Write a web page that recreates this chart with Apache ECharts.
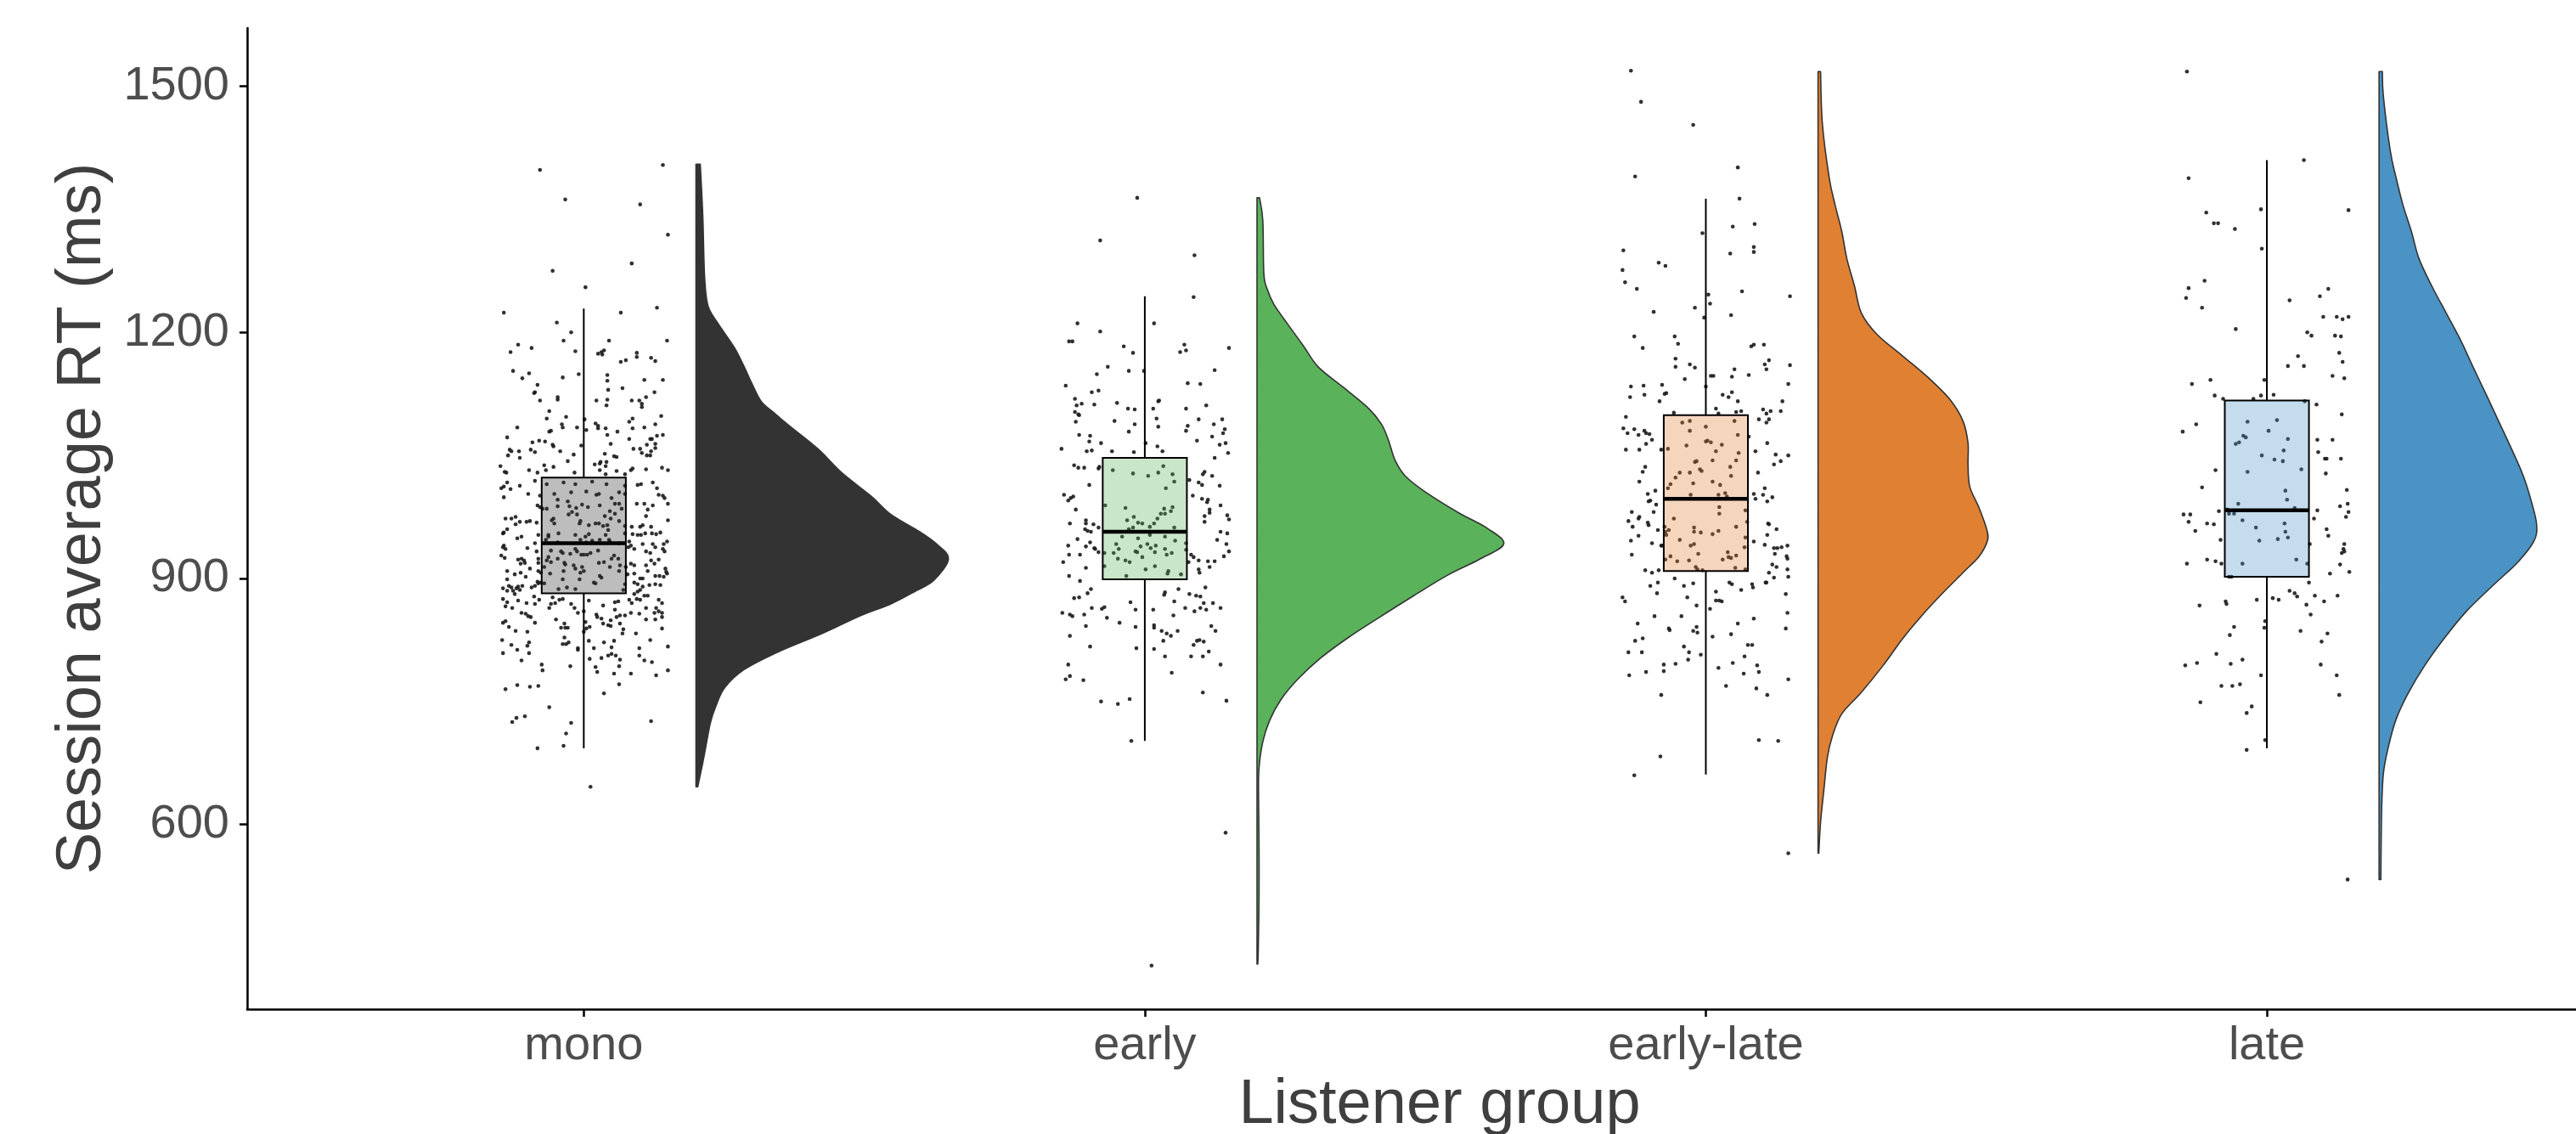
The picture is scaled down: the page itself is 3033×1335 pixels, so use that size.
<!DOCTYPE html>
<html>
<head>
<meta charset="utf-8">
<title>Session average RT by listener group</title>
<script src="https://cdn.jsdelivr.net/npm/echarts@6/dist/echarts.min.js"></script>
<style>
  html, body { margin: 0; padding: 0; background: #ffffff; }
  #chart { width: 3033px; height: 1335px; }
</style>
</head>
<body>
<div id="chart"></div>
<script>
// Listener groups shown along the x axis
const categories = ['mono', 'early', 'early-late', 'late'];
const yTickValues = [600, 900, 1200, 1500];

// Box summaries per group: [whisker low, Q1, median, Q3, whisker high] (ms)
const boxMono = [693, 882, 943, 1023, 1229];
const boxEarly = [702, 899, 957, 1047, 1244];
const boxEarlyLate = [661, 909, 997, 1099, 1363];
const boxLate = [693, 902, 983, 1117, 1410];

// Density profiles for the half violins: [RT (ms), relative density], top to bottom
const densMono = [[1405,0.017],[1342,0.027],[1269,0.034],[1233,0.047],[1211,0.087],[1182,0.151],[1160,0.188],[1138,0.221],[1116,0.258],[1102,0.309],[1087,0.366],[1058,0.483],[1029,0.577],[1000,0.695],[978,0.772],[957,0.886],[942,0.953],[924,1.0],[898,0.943],[884,0.866],[869,0.772],[855,0.654],[833,0.5],[811,0.329],[789,0.191],[767,0.114],[746,0.081],[724,0.057],[680,0.030],[646,0.007]];
const densEarly = [[1364,0.010],[1336,0.023],[1272,0.027],[1253,0.040],[1234,0.067],[1209,0.124],[1183,0.185],[1158,0.242],[1133,0.342],[1107,0.443],[1088,0.493],[1069,0.520],[1044,0.547],[1025,0.587],[1006,0.664],[980,0.799],[961,0.913],[942,0.977],[923,0.879],[904,0.755],[879,0.621],[853,0.487],[828,0.362],[803,0.252],[777,0.161],[752,0.094],[727,0.050],[701,0.023],[669,0.008],[638,0.006],[574,0.008],[511,0.008],[447,0.005],[430,0.003]];
const densEarlyLate = [[1518,0.010],[1455,0.017],[1389,0.044],[1356,0.067],[1323,0.094],[1290,0.114],[1257,0.144],[1224,0.171],[1198,0.232],[1171,0.336],[1145,0.436],[1118,0.523],[1092,0.574],[1065,0.594],[1039,0.594],[1012,0.601],[986,0.638],[960,0.668],[946,0.671],[927,0.638],[907,0.574],[880,0.487],[854,0.409],[827,0.336],[794,0.258],[761,0.171],[735,0.094],[708,0.057],[682,0.037],[642,0.023],[603,0.010],[565,0.003]];
const densLate = [[1518,0.013],[1488,0.017],[1422,0.044],[1389,0.067],[1356,0.094],[1323,0.128],[1290,0.158],[1257,0.208],[1224,0.265],[1191,0.322],[1158,0.372],[1125,0.423],[1092,0.473],[1059,0.523],[1026,0.570],[993,0.604],[966,0.624],[946,0.614],[920,0.550],[894,0.460],[860,0.346],[827,0.258],[794,0.181],[761,0.117],[728,0.067],[695,0.037],[662,0.017],[616,0.010],[533,0.007]];

// Individual session averages: [horizontal jitter (-1..1), RT (ms)]
const pointsMono = [
[-.52,1398],[.94,1404],[-.22,1362],[.67,1356],[1,1319],[-.37,1275],[.57,1284],[.02,1255],[-.95,1224],[.44,1224],[.87,1230],[-.32,1212],[-.15,1200],[-.24,1190],[.30,1190],[.99,1190],[-.78,1185],[-.87,1176],[-.62,1181],[-.10,1177],[.17,1174],[.21,1176],[.24,1178],[.22,1173],[.63,1175],[.63,1170],[.44,1164],[.50,1166],[.80,1169],[.85,1165],
[-.84,1153],[-.73,1144],[-.65,1150],[-.25,1145],[-.06,1149],[.28,1148],[.28,1141],[.29,1130],[.46,1132],[.72,1142],[.94,1142],[-.55,1136],[-.58,1127],[-.59,1126],[-.52,1117],[-.31,1121],[-.31,1118],[.15,1117],[.28,1118],[.27,1111],[.57,1117],[.66,1117],[.69,1113],[.69,1109],[.74,1121],[.84,1127],
[-.41,1104],[-.44,1095],[-.21,1097],[.01,1094],[.03,1081],[-.26,1088],[-.25,1084],[-.08,1084],[.14,1089],[.17,1086],[.17,1083],[.26,1083],[.28,1075],[.40,1079],[.54,1091],[.58,1095],[.58,1083],[.72,1084],[.85,1088],[.92,1098],[-.79,1084],[-.91,1072],[-.41,1079],[-.39,1080],
[-.61,1066],[-.53,1068],[-.46,1067],[-.37,1063],[-.36,1061],[-.28,1055],[-.63,1057],[-.58,1054],[-.88,1057],[-.86,1055],[-.77,1055],[-.90,1050],[-.76,1047],[-.03,1062],[.32,1064],[.54,1070],[.59,1058],[.67,1058],[.69,1053],[.75,1063],[.79,1070],[.81,1070],[.87,1074],[.94,1075],[.85,1064],[.85,1059],[.80,1055],[.75,1050],[.79,1050],[.25,1052],[.36,1049],[.39,1048],[-.12,1051],[-.19,1043],
[-.99,1037],[-.94,1030],[-.92,1029],[-.65,1032],[-.55,1029],[-.47,1038],[-.45,1032],[-.36,1036],[-.11,1029],[.13,1039],[.19,1040],[.20,1042],[.27,1042],[.26,1037],[.19,1032],[.39,1031],[.56,1032],[.58,1034],[.74,1033],[.93,1035],[1,1032],[.49,1027],[.26,1027],
[-.98,1010],[-.95,1012],[-.91,1017],[-.87,1009],[-.95,999],[-.76,1013],[-.66,1003],[-.58,1019],[-.44,1015],[-.35,1003],[-.31,996],[-.52,1001],[-.24,1017],[-.15,1005],[-.10,1015],[.03,1006],[.10,1018],[.15,1002],[.18,1003],[.27,1015],[.33,998],[.37,991],[.42,1005],[.49,1013],[.49,1003],[.64,1014],[.68,1015],[.82,1017],[.87,1010],[.89,1002],[.94,1001],[.96,998],[1,991],
[-.55,989],[-.52,987],[-.49,985],[-.44,985],[-.31,988],[-.19,994],[-.17,988],[-.09,986],[-.02,990],[.05,987],[.19,989],[.25,976],[.31,982],[.37,979],[.42,991],[.45,985],[.63,991],[.72,991],[.76,984],[.82,989],[.74,976],[1,971],[-.93,973],[-.86,973],[-.81,975],[-.76,969],[-.68,969],[-.64,970],[-.56,968],[-.38,971],[-.36,973],[-.35,967],[-.18,978],[-.14,981],[-.08,978],[-.04,970],[-.05,967],[.06,965],[.14,967],[.18,967],[.23,964],[.28,965],[.29,959],[.32,973],[.42,970],[.49,964],[.57,963],[.67,963],[.70,965],[.80,963],[-.81,966],[-.91,960],[-.96,955],
[-.95,956],[-.74,951],[-.79,949],[-.54,953],[-.42,951],[-.42,953],[-.30,955],[-.10,953],[.02,951],[.06,954],[.26,953],[.31,945],[.49,955],[.58,954],[.64,953],[.68,953],[.73,955],[.81,955],[.86,954],[.91,956],[-.95,940],[-.96,938],[-.93,936],[-.98,928],[-.94,925],[-.67,937],[-.58,943],[-.56,933],[-.39,934],[-.27,933],[-.25,931],[-.16,930],[-.10,936],[-.08,933],[-.03,929],[0,929],[.04,929],[.08,931],[.17,934],[.33,924],[.36,928],[.41,924],[.53,938],[.56,940],[.60,936],[.70,942],[.74,933],[.79,931],[.82,942],[.85,938],[.95,942],[.99,945],[.94,936],[.96,933],[-.45,947],[-.31,944],[-.04,947],[.03,944],[.10,946],[.19,947],[.30,947],[.42,943],[.54,945],
[-.78,923],[-.75,918],[-.71,922],[-.70,919],[-.74,924],[-.54,924],[-.54,919],[-.42,926],[-.44,922],[-.31,924],[-.23,919],[-.12,916],[-.10,912],[-.02,914],[0,909],[-.04,907],[-.05,899],[-.24,909],[-.39,920],[-.47,914],[-.51,907],[-.54,909],[-.40,906],[-.22,917],[.18,919],[.24,920],[.31,914],[.19,903],[.21,901],[.43,916],[.42,909],[.50,914],[.56,918],[.60,916],[.52,905],[.60,906],[.74,916],[.76,909],[.80,922],[.84,918],[.89,923],[.97,912],[.98,908],[.99,906],[.90,903],[.95,902],
[-.91,909],[-.82,905],[-.75,907],[-.69,902],[-.64,912],[-.55,896],[-.54,894],[-.91,899],[-.89,891],[-.86,889],[-.80,888],[-.78,890],[-.76,886],[-.73,891],[-.84,885],[-.82,881],[-.96,888],[-.91,885],[-.62,889],[-.58,891],[-.51,895],[-.47,894],
[-.25,899],[-.20,889],[-.10,887],[-.30,887],[.12,895],[.14,894],[.47,886],[.49,893],[.60,895],[.64,893],[.67,886],[.70,890],[.78,892],[.85,893],[.91,892],[.64,884],[.67,900],[.70,900],[.85,903],
[-.96,875],[-.91,871],[-.93,866],[-.85,864],[-.78,873],[-.74,858],[-.68,870],[-.69,857],[-.66,854],[-.63,853],[-.59,878],[-.58,869],[-.53,874],[-.37,877],[-.34,870],[-.39,869],[-.29,874],[-.25,875],[-.41,864],[-.15,869],[-.11,864],[-.07,858],[0,860],[.06,873],[.02,847],[.23,867],[.15,856],[.16,853],[.21,851],[.23,845],[.32,849],[.37,871],[.41,872],[.37,862],[.39,853],[.43,855],[.49,855],[.56,858],[.54,874],[.57,870],[.60,881],[.63,875],[.67,874],[.72,879],[.74,864],[.76,879],[.66,857],[.74,850],[.84,858],[.86,864],[.89,860],[.93,858],[.93,853],[.85,850],[.89,874],[.93,870],[-.96,846],[-.93,848],[-.89,841],[-.81,836],
[-.33,850],[-.27,840],[-.23,845],[-.22,840],[-.19,840],[-.58,846],[-.67,835],[0,835],[.03,839],[.07,841],[.29,843],[.32,842],[.43,845],[.47,838],[.46,833],[.62,833],[.79,825],[.93,839],[1,817],[-.97,825],[-.86,819],[-.79,813],[-.96,809],[-.67,818],[-.65,822],[-.65,809],[-.74,800],[-.23,828],[-.25,820],[-.21,820],[-.18,822],[-.07,815],[-.07,813],[.06,824],[.12,815],[.24,822],[.33,816],[.36,824],[.29,806],[.33,808],[.38,806],[.43,801],[.21,803],[.07,802],[.66,815],[.66,806],[.72,800],[.81,798],[-.50,795],[-.49,788],[-.16,793],[.14,792],[.16,786],[.36,784],[.42,793],[.56,784],[.86,782],[1,788],
[-.93,765],[-.79,770],[-.64,768],[-.54,769],[.42,771],[.24,760],[-.41,743],[-.85,725],[-.80,730],[-.70,732],[-.15,724],[.80,726],[-.21,711],[-.55,693],[-.24,696],[.08,646]
];

const pointsEarly = [
[-.09,1364],[-.53,1312],[.59,1294],[.58,1243],[-.80,1211],[-.53,1201],[.11,1211],[-.90,1189],[-.86,1189],[-.25,1183],[-.14,1175],[.42,1176],[.47,1185],[.49,1178],[1,1181],[-.44,1158],[-.57,1149],[-.19,1153],[-.01,1153],[.83,1154],[-.94,1135],[-.63,1127],[-.55,1129],[.51,1138],[.66,1137],
[-.83,1119],[-.81,1111],[-.75,1113],[-.60,1112],[-.33,1114],[-.20,1107],[-.12,1106],[.10,1107],[.16,1116],[.17,1117],[.49,1107],[.73,1111],[-.83,1103],[-.79,1100],[-.78,1099],[-.82,1091],[-.36,1092],[-.12,1088],[.14,1095],[.16,1085],[.51,1086],[.49,1080],[.64,1094],[.82,1088],[.92,1094],[.95,1082],[.93,1077],
[-.78,1075],[-.65,1074],[-.66,1067],[-.52,1065],[-.19,1079],[.01,1065],[.15,1061],[.21,1055],[.62,1068],[.80,1073],[.89,1063],[.96,1065],[.99,1053],[-.99,1058],[-.69,1055],[-.63,1056],[-.39,1055],[-.13,1054],[.83,1047],
[-.84,1038],[-.79,1035],[-.72,1035],[-.55,1034],[-.54,1036],[-.38,1032],[-.14,1028],[.04,1025],[.16,1029],[.22,1037],[.33,1027],[.35,1018],[.25,1010],[.53,1020],[.64,1017],[.69,1027],[.71,1030],[.80,1025],[.68,1014],[.89,1013],[-.66,1014],
[-.96,1002],[-.91,995],[-.88,998],[-.85,1000],[-.82,984],[-.47,989],[-.23,986],[-.21,971],[-.13,975],[-.08,968],[-.03,967],[.06,963],[.11,967],[.15,973],[.19,979],[.23,985],[.24,979],[.31,982],[.33,987],[-.19,960],[-.14,962],[.35,962],[.57,1001],[.68,997],[.75,996],[.74,993],[.77,984],[.77,980],[.71,976],[.71,969],[.90,989],[.98,977],[1,972],
[-.89,967],[-.70,971],[-.70,967],[-.61,966],[-.71,960],[-.68,958],[-.64,957],[-.55,962],[-.80,948],[-.91,940],[-.90,929],[-.77,929],[-.70,939],[-.65,944],[-.60,937],[-.59,936],[-.55,932],[-.97,920],[-.70,913],[-.90,903],[.90,957],[.98,955],[.86,947],[.97,942],[1,933],[.94,927],[.83,921],[.75,921],[.77,914],[.64,922],[.58,926],[.55,929],[.64,911],[.65,907],[.52,920],[.49,943],[.49,935],
[-.27,951],[-.08,949],[.06,953],[.24,951],[.36,946],[-.34,942],[-.31,936],[-.05,939],[.03,942],[.07,937],[.13,940],[.12,932],[.24,936],[.26,929],[.32,931],[-.37,931],[-.11,933],[-.09,932],[-.03,926],[-.48,931],[-.32,924],[-.23,922],[-.18,920],[.01,911],[.12,915],[.28,909],[.27,906],[.43,905],[-.22,903],[-.48,915],
[-.77,897],[-.64,887],[-.68,882],[-.84,876],[-.78,877],[-.98,858],[-.89,856],[-.86,854],[-.72,856],[-.63,864],[-.51,863],[-.48,865],[-.45,852],[-.70,842],[-.89,830],[-.65,817],[-.30,846],[-.17,871],[-.11,862],[-.11,841],[-.10,815],[.10,862],[.11,843],[.11,840],[.11,814],[.20,836],[.26,833],[.31,830],[.22,824],[.24,805],[.32,785],
[.23,880],[.24,883],[.35,872],[.40,887],[.34,855],[.39,836],[.48,864],[.53,881],[.59,860],[.61,879],[.66,878],[.66,864],[.70,870],[.73,862],[.72,889],[.81,870],[.90,864],[.79,842],[.84,836],[.62,824],[.65,825],[.70,823],[.58,819],[.76,811],[.55,805],[.69,805],[.90,795],
[-.91,795],[-.89,781],[-.94,777],[-.73,776],[.69,761],[.97,751],[-.52,750],[-.32,747],[-.18,753],[-.16,702],[.96,590],[.08,428]
];

const pointsEarlyLate = [
[-.89,1519],[-.77,1481],[-.15,1453],[.38,1401],[.40,1363],[-.84,1390],[-.04,1321],[.32,1329],[.58,1332],[-.98,1300],[-.99,1276],[-.96,1261],[-.82,1253],[-.56,1285],[-.48,1281],[.29,1296],[.57,1304],[.57,1298],[.03,1246],[.05,1235],[.43,1250],[1,1244],[-.13,1230],[-.62,1225],[-.02,1218],[.30,1221],
[-.85,1195],[-.75,1181],[-.37,1195],[-.33,1186],[-.36,1168],[-.36,1158],[-.19,1161],[-.13,1157],[-.25,1143],[.06,1147],[.09,1147],[0,1134],[.54,1183],[.57,1185],[.69,1185],[.75,1166],[.70,1161],[.72,1155],[1,1160],[.98,1137],[.34,1155],[.31,1146],[.51,1148],
[-.89,1134],[-.90,1121],[-.74,1135],[-.73,1124],[-.52,1136],[-.49,1125],[-.47,1126],[-.55,1116],[-.38,1102],[.20,1124],[.27,1121],[.31,1127],[.12,1107],[.15,1101],[.38,1116],[.36,1103],[.42,1104],[.91,1116],[.89,1104],[.68,1106],[.72,1101],[.77,1104],[.75,1094],[.72,1090],[.63,1094],
[-.95,1097],[-.98,1083],[-.93,1077],[-.85,1082],[-.80,1075],[-.73,1080],[-.71,1077],[-.67,1076],[-.64,1069],[-.95,1057],[-.79,1057],[-.71,1064],[-.53,1057],[-.72,1036],[-.75,1030],[-.79,1018],[-.69,1003],[-.68,994],[-.60,1007],[-.59,990],[-.66,995],[-.62,981],[-.88,981],[-.92,970],[-.87,963],[-.80,973],[-.79,975],[-.80,952],[-.69,968],[-.68,965],[-.57,959],[-.64,943],[-.89,946],[-.88,929],[-.53,940],[-.52,940],
[-.28,1090],[-.19,1092],[0,1085],[-.19,1080],[0,1067],[.02,1068],[.06,1066],[-.23,1062],[.19,1063],[.12,1055],[.08,1044],[.34,1092],[.38,1075],[.39,1053],[.36,1044],[.29,1036],[.30,1025],[-.13,1042],[-.11,1043],[-.07,1033],[-.05,1031],[-.19,1029],[-.31,1029],[-.36,1023],[-.42,1015],[-.45,1010],[-.15,1016],[.08,1018],[.17,1014],[-.18,1002],[.15,1002],[.23,1004],[.25,1000],[-.45,1058],
[.16,987],[.16,979],[.47,983],[-.38,973],[-.49,963],[-.48,957],[-.44,959],[-.47,953],[-.14,962],[-.14,957],[-.06,956],[.08,954],[.15,958],[.36,963],[.49,969],[-.31,947],[-.14,942],[-.09,930],[-.18,940],[.26,932],[.27,926],[.36,928],[.46,938],[.47,950],[-.42,927],[-.34,921],[-.20,922],[-.12,914],[-.10,911],[-.04,910],[.20,923],[.30,925],[.35,913],[.47,911],[-.48,923],
[.51,1073],[.59,1055],[.62,1029],[.73,1065],[.83,1051],[.81,1039],[.89,1043],[.98,1050],[.70,1010],[.68,1002],[.73,994],[.79,999],[.57,1003],[.59,997],[.57,945],[.74,967],[.75,966],[.84,960],[.73,953],[.70,941],[.81,937],[.85,937],[.90,938],[.97,940],[.82,930],[.96,927],[.97,924],[.79,917],[.84,914],[.75,907],[.81,901],[.97,911],[.98,902],[.71,895],[.95,881],[.97,858],[.95,839],[.98,777],
[-.72,910],[-.64,907],[-.56,910],[-.66,891],[-.57,895],[-.58,882],[-.37,900],[-.26,891],[-.15,894],[-.22,877],[-.11,867],[.05,863],[.12,884],[.12,873],[.16,873],[.19,872],[.08,829],[.28,895],[.31,893],[.42,886],[.55,893],[.56,889],[.72,895],[-.99,877],[-.96,872],[-.61,854],[-.29,854],[-.44,839],[-.43,837],[-.81,845],[-.84,824],[-.75,827],[-.92,810],[-.76,810],[-.71,786],[-.91,782],[-.50,795],[-.50,787],[-.36,796],[-.26,817],[-.20,810],[-.21,801],[-.15,836],[-.11,841],[-.10,834],[-.06,807],[-.53,758],[-.54,683],[-.85,660],
[.15,791],[.24,769],[.30,832],[.32,797],[.38,845],[.46,805],[.45,784],[.50,819],[.55,819],[.57,851],[.61,794],[.63,786],[.60,766],[.73,758],[.63,703],[.86,702],[.98,565]
];

const pointsLate = [
[-.95,1518],[.44,1410],[-.93,1388],[-.07,1350],[.97,1349],[-.72,1346],[-.63,1333],[-.58,1333],[-.38,1326],[-.06,1302],[-.74,1263],[-.93,1254],[-.96,1242],[-.77,1230],[.27,1239],[.63,1244],[.73,1253],[.67,1219],[.83,1219],[.90,1216],[.97,1219],[-.37,1204],[.48,1200],[.53,1196],[.81,1196],[.88,1195],[.86,1175],[.90,1164],[.37,1171],[.44,1159],[.25,1159],[.78,1147],[.92,1144],
[-.89,1137],[-.67,1142],[-.62,1123],[-.52,1119],[-.03,1142],[-.07,1123],[.08,1124],[-.16,1119],[.45,1116],[.59,1112],[.89,1100],[-.84,1088],[-1,1079],[-.23,1091],[.12,1093],[.02,1080],[-.28,1074],[-.25,1072],[-.37,1064],[-.33,1066],[.25,1070],[.60,1069],[.78,1069],[.61,1054],[.20,1056],[-.06,1050],[.09,1045],[.19,1043],[.69,1046],[.71,1046],[.88,1046],[-.23,1030],[-.61,1032],[.41,1033],[.70,1028],
[-.77,1011],[.22,1007],[.24,996],[.95,1008],[-.34,991],[.96,991],[.87,988],[.33,986],[-.99,978],[-.91,978],[-.93,969],[-.85,958],[-.71,967],[-.63,966],[-.57,982],[-.47,984],[-.45,979],[-.39,979],[-.29,971],[-.13,962],[-.09,946],[.21,967],[.22,957],[.25,950],[.13,948],[.60,983],[.56,973],[.97,981],[.94,975],[.71,960],[.73,952],[.51,942],[.92,942],[.91,936],[.89,931],[.92,933],[-.55,947],
[-.95,918],[-.71,923],[-.61,921],[-.54,918],[-.29,918],[.35,923],[.48,918],[.87,917],[.98,908],[.75,906],[-.45,902],[-.42,902],[.50,895],[-.80,867],[-.49,872],[-.48,869],[-.12,874],[.07,876],[.14,874],[.27,885],[.33,882],[.36,878],[.47,868],[.52,856],[.57,879],[.68,872],[.84,879],[-.02,848],[-.03,840],[-.39,841],[-.44,831],[.40,836],[.72,833],[.65,823],
[-.60,808],[-.97,794],[-.83,797],[-.43,796],[-.29,801],[.64,795],[-.07,782],[.83,782],[-.54,769],[-.41,769],[-.32,771],[.86,758],[-.79,749],[-.24,736],[-.18,744],[-.02,703],[-.24,691],[.96,533]
];

// Drawing constants (category units / px)
const JITTER_WIDTH = 0.15;
const BOX_WIDTH = 0.15;
const VIOLIN_OFFSET = 0.2;
const VIOLIN_MAX_WIDTH = 0.45;
const BOX_ALPHA = 0.32;
const groupColors = ['#333333', '#5AB25A', '#E08033', '#4A93C4'];

const boxes = [boxMono, boxEarly, boxEarlyLate, boxLate];
const densities = [densMono, densEarly, densEarlyLate, densLate];
const pointGroups = [pointsMono, pointsEarly, pointsEarlyLate, pointsLate];

function hexToRgba(hex, a) {
  const n = parseInt(hex.slice(1), 16);
  return 'rgba(' + ((n >> 16) & 255) + ',' + ((n >> 8) & 255) + ',' + (n & 255) + ',' + a + ')';
}

// Jittered raw points, one scatter layer for all groups
const scatterData = [];
pointGroups.forEach(function (pts, g) {
  pts.forEach(function (p) { scatterData.push([g + 1 + p[0] * JITTER_WIDTH, p[1]]); });
});

const boxData = boxes.map(function (b, g) { return [g + 1].concat(b); });
const violinData = densities.map(function (d, g) { return [g + 1, d[0][0], d[d.length - 1][0]]; });

function renderBox(params, api) {
  const idx = api.value(0);
  const lo = api.coord([idx, api.value(1)]);
  const q1 = api.coord([idx, api.value(2)]);
  const med = api.coord([idx, api.value(3)]);
  const q3 = api.coord([idx, api.value(4)]);
  const hi = api.coord([idx, api.value(5)]);
  const half = api.size([BOX_WIDTH, 0])[0] / 2;
  const cx = lo[0];
  const fill = hexToRgba(groupColors[params.dataIndex], BOX_ALPHA);
  return {
    type: 'group',
    children: [
      { type: 'line', shape: { x1: cx, y1: hi[1], x2: cx, y2: q3[1] }, style: { stroke: '#000', lineWidth: 2 } },
      { type: 'line', shape: { x1: cx, y1: q1[1], x2: cx, y2: lo[1] }, style: { stroke: '#000', lineWidth: 2 } },
      { type: 'rect', shape: { x: cx - half, y: q3[1], width: half * 2, height: q1[1] - q3[1] },
        style: { fill: fill, stroke: '#000', lineWidth: 2 } },
      { type: 'line', shape: { x1: cx - half, y1: med[1], x2: cx + half, y2: med[1] }, style: { stroke: '#000', lineWidth: 4.5 } }
    ]
  };
}

// Half violin: straight edge at the base, smooth curve through the density profile
function renderViolin(params, api) {
  const idx = api.value(0);
  const prof = densities[params.dataIndex];
  const base = idx + VIOLIN_OFFSET;
  const pts = prof.map(function (p) { return api.coord([base + p[1] * VIOLIN_MAX_WIDTH, p[0]]); });
  const b0 = api.coord([base, prof[0][0]]);
  const b1 = api.coord([base, prof[prof.length - 1][0]]);
  let d = 'M' + b0[0] + ',' + b0[1] + ' L' + pts[0][0] + ',' + pts[0][1];
  for (let i = 0; i < pts.length - 1; i++) {
    const p0 = pts[Math.max(0, i - 1)], p1 = pts[i], p2 = pts[i + 1], p3 = pts[Math.min(pts.length - 1, i + 2)];
    const c1x = p1[0] + (p2[0] - p0[0]) / 6, c1y = p1[1] + (p2[1] - p0[1]) / 6;
    const c2x = p2[0] - (p3[0] - p1[0]) / 6, c2y = p2[1] - (p3[1] - p1[1]) / 6;
    d += ' C' + Math.max(b0[0], c1x) + ',' + c1y + ' ' + Math.max(b0[0], c2x) + ',' + c2y + ' ' + p2[0] + ',' + p2[1];
  }
  d += ' L' + b1[0] + ',' + b1[1] + ' Z';
  return {
    type: 'path',
    shape: { pathData: d },
    style: { fill: groupColors[params.dataIndex], stroke: '#333333', lineWidth: 1.6, lineJoin: 'round' }
  };
}

const FONT = "'Liberation Sans', Arial, Helvetica, sans-serif";
const chart = echarts.init(document.getElementById('chart'), null, { renderer: 'canvas' });
chart.setOption({
  animation: false,
  backgroundColor: '#ffffff',
  grid: { left: 291, top: 33, right: 0, bottom: 147, containLabel: false, outerBoundsMode: 'none' },
  xAxis: {
    type: 'value',
    min: 0.4,
    max: 4.551,
    name: 'Listener group',
    nameLocation: 'middle',
    nameGap: 76,
    nameTextStyle: { fontFamily: FONT, fontSize: 74, color: '#3f3f3f', padding: [0, 0, 0, 66] },
    splitLine: { show: false },
    axisLine: { show: true, onZero: false, lineStyle: { color: '#000', width: 2.5 } },
    axisTick: { show: true, length: 9, lineStyle: { color: '#000', width: 2.5 }, customValues: [1, 2, 3, 4] },
    axisLabel: {
      customValues: [1, 2, 3, 4],
      margin: 16,
      fontFamily: FONT, fontSize: 56, color: '#4d4d4d',
      formatter: function (v) { return categories[Math.round(v) - 1]; }
    }
  },
  yAxis: {
    type: 'value',
    min: 375,
    max: 1571,
    name: 'Session average RT (ms)',
    nameLocation: 'middle',
    nameGap: 136,
    nameRotate: 90,
    nameTextStyle: { fontFamily: FONT, fontSize: 74, color: '#3f3f3f' },
    splitLine: { show: false },
    axisLine: { show: true, onZero: false, lineStyle: { color: '#000', width: 2.5 } },
    axisTick: { show: true, length: 9, lineStyle: { color: '#000', width: 2.5 }, customValues: yTickValues },
    axisLabel: {
      customValues: yTickValues,
      margin: 21,
      fontFamily: FONT, fontSize: 56, color: '#4d4d4d',
      formatter: function (v) { return String(v); }
    }
  },
  series: [
    {
      type: 'custom',
      name: 'density',
      renderItem: renderViolin,
      data: violinData,
      encode: { x: 0, y: [1, 2] },
      clip: false,
      z: 2
    },
    {
      type: 'scatter',
      name: 'sessions',
      data: scatterData,
      symbol: 'circle',
      symbolSize: 4.6,
      itemStyle: { color: '#1a1a1a', opacity: 0.9 },
      z: 3
    },
    {
      type: 'custom',
      name: 'box',
      renderItem: renderBox,
      data: boxData,
      encode: { x: 0, y: [1, 2, 3, 4, 5] },
      z: 4
    }
  ]
});
</script>
</body>
</html>
